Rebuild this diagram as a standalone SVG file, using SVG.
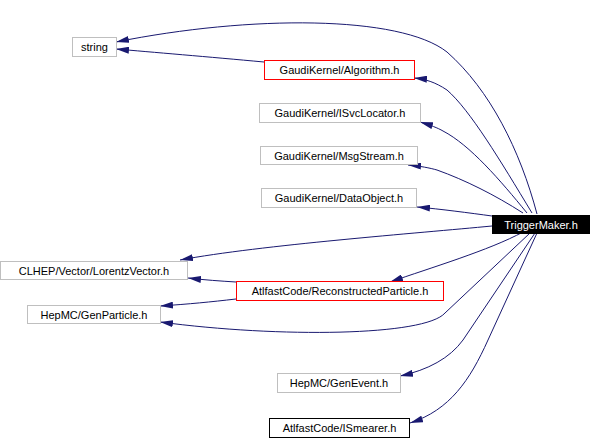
<svg xmlns="http://www.w3.org/2000/svg" width="592" height="438" viewBox="0 0 592 438">
<style>
.n rect{fill:#fff;stroke:#bfbfbf;stroke-width:1}
.n.red rect{stroke:#ff0000}
.n.blk rect{stroke:#000}
.n.root rect{fill:#000;stroke:#000}
.n text{font-family:"Liberation Sans",Arial,sans-serif;font-size:11px;fill:#000;text-anchor:middle}
.n.root text{fill:#fff}
#edges path{fill:none;stroke:#191970;stroke-width:1;marker-end:url(#ah)}
</style>
<defs>
<marker id="ah" viewBox="0 0 13 7" refX="13" refY="3.5" markerWidth="13" markerHeight="7" markerUnits="userSpaceOnUse" orient="auto">
<polygon points="0,0 13,3.5 0,7" fill="#191970"/>
</marker>
</defs>
<rect width="592" height="438" fill="#fff"/>
<g id="edges">
<path d="M537,214 C520,150 490,90 447,52 C400,15 250,15 116,42"/>
<path d="M264,62 C210,57 150,52 116,49"/>
<path d="M532,213 C500,160 470,110 447,90 C435,82 425,79 414,78"/>
<path d="M527,213 C500,180 470,145 443,131 C438,128 430,125 420,122"/>
<path d="M523,213 C495,195 465,180 437,170 C430,168 420,166 408,165"/>
<path d="M492,216 C470,213 440,209 417,207"/>
<path d="M492,226 C420,233 260,245 180,260"/>
<path d="M236,282 C220,281 205,280 188,278"/>
<path d="M523,232 C490,250 430,268 390,282"/>
<path d="M236,299 C210,302 190,304 160,306"/>
<path d="M530,233 L445,313 C425,336 280,338 160,322"/>
<path d="M535,233 L463,340 C450,358 428,370 400,376"/>
<path d="M537,233 L488,340 C470,380 450,410 410,423"/>
</g>
<g id="n_string" class="n"><rect x="72.5" y="37.5" width="44" height="19"/><text x="94.5" y="51">string</text></g>
<g id="n_algorithm" class="n red"><rect x="264.5" y="60.5" width="150" height="19"/><text x="339.5" y="74">GaudiKernel/Algorithm.h</text></g>
<g id="n_isvclocator" class="n"><rect x="259.5" y="103.5" width="161" height="19"/><text x="340" y="117">GaudiKernel/ISvcLocator.h</text></g>
<g id="n_msgstream" class="n"><rect x="260.5" y="146.5" width="157" height="18"/><text x="339" y="159.5">GaudiKernel/MsgStream.h</text></g>
<g id="n_dataobject" class="n"><rect x="261.5" y="188.5" width="155" height="19"/><text x="339" y="202">GaudiKernel/DataObject.h</text></g>
<g id="n_triggermaker" class="n root"><rect x="492.5" y="215.5" width="97" height="18"/><text x="541" y="228.5">TriggerMaker.h</text></g>
<g id="n_lorentz" class="n"><rect x="0.5" y="261.5" width="187" height="18"/><text x="94" y="274.5">CLHEP/Vector/LorentzVector.h</text></g>
<g id="n_recpart" class="n red"><rect x="236.5" y="281.5" width="207" height="19"/><text x="340" y="295">AtlfastCode/ReconstructedParticle.h</text></g>
<g id="n_genparticle" class="n"><rect x="27.5" y="305.5" width="133" height="18"/><text x="94" y="318.5">HepMC/GenParticle.h</text></g>
<g id="n_genevent" class="n"><rect x="277.5" y="373.5" width="123" height="19"/><text x="339" y="387">HepMC/GenEvent.h</text></g>
<g id="n_ismearer" class="n blk"><rect x="269.5" y="418.5" width="140" height="19"/><text x="339.5" y="432">AtlfastCode/ISmearer.h</text></g>
</svg>
